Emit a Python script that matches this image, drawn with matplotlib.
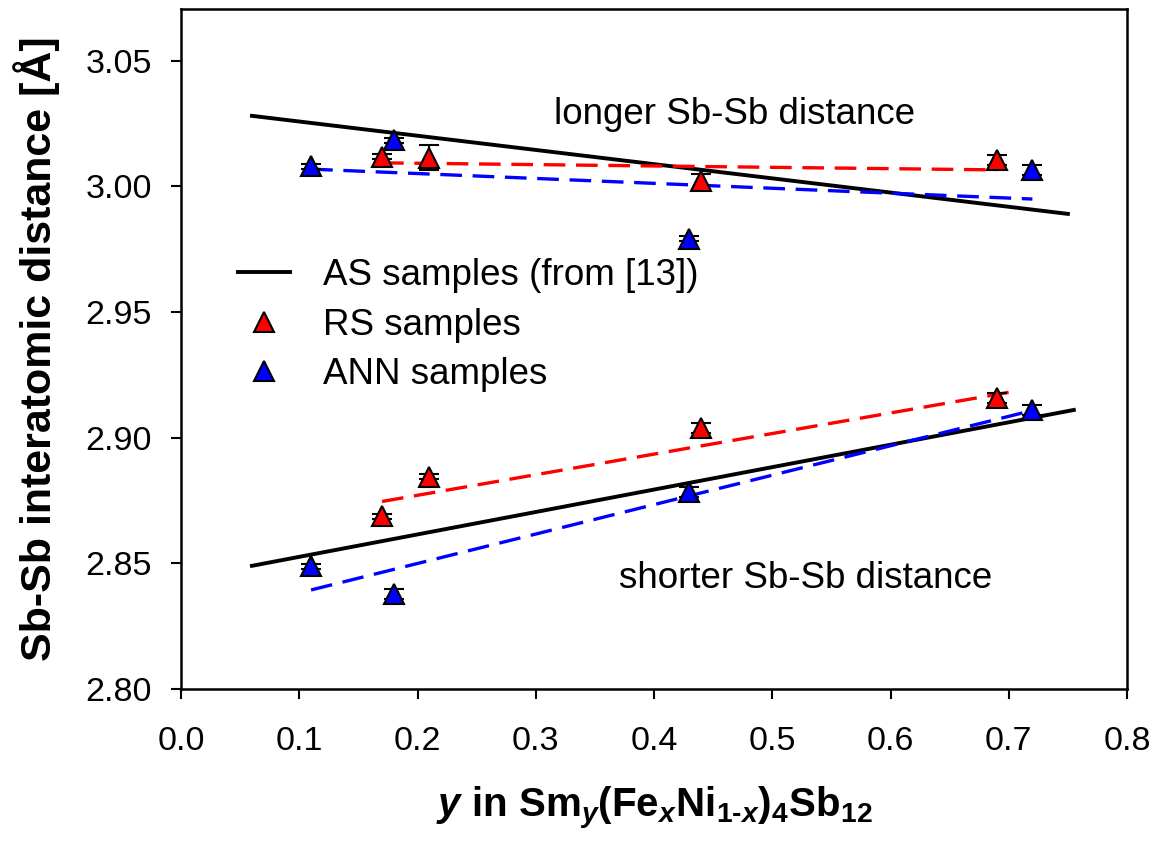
from __future__ import annotations

import matplotlib

matplotlib.use("Agg")
import matplotlib.pyplot as plt
from matplotlib.lines import Line2D


# RS samples (red)
rs_y = [0.17, 0.21, 0.44, 0.69]
rs_long = [3.0118, 3.0114, 3.0020, 3.0104]
rs_long_err = [0.001, 0.005, 0.003, 0.002]
rs_short = [2.8688, 2.8844, 2.9039, 2.9159]
rs_short_err = [0.001, 0.001, 0.002, 0.002]

# ANN samples (blue)
ann_y = [0.11, 0.18, 0.43, 0.72]
ann_long = [3.0079, 3.0183, 2.9792, 3.0066]
ann_long_err = [0.001, 0.001, 0.001, 0.002]
ann_short = [2.8489, 2.8377, 2.8783, 2.9108]
ann_short_err = [0.001, 0.002, 0.002, 0.002]

# AS samples (from [13]) - trend lines only
as_long_x = [0.06, 0.75]
as_long = [3.028, 2.989]
as_short_x = [0.06, 0.755]
as_short = [2.849, 2.911]

# dashed trend lines
rs_long_fit_x = [0.17, 0.69]
rs_long_fit = [3.0093, 3.0065]
ann_long_fit_x = [0.11, 0.72]
ann_long_fit = [3.0068, 2.9949]
rs_short_fit_x = [0.17, 0.70]
rs_short_fit = [2.8746, 2.918]
ann_short_fit_x = [0.11, 0.72]
ann_short_fit = [2.8394, 2.9108]

x_ticks = [0.0, 0.1, 0.2, 0.3, 0.4, 0.5, 0.6, 0.7, 0.8]
y_ticks = [2.80, 2.85, 2.90, 2.95, 3.00, 3.05]

FONT = "Liberation Sans"
RED = "#ff0000"
BLUE = "#0000ff"
MS = 15


def draw_points(ax, x, y, err, color):
    ax.errorbar(
        x, y, yerr=err,
        fmt="none", ecolor="black", elinewidth=1.5,
        capsize=7.5, capthick=1.5, zorder=3,
    )
    ax.plot(
        x, y, linestyle="none", marker="^", markersize=MS,
        markerfacecolor=color, markeredgecolor="black", markeredgewidth=1.5,
        zorder=4,
    )


def main() -> None:
    plt.rcParams["font.family"] = [FONT, "DejaVu Sans"]
    plt.rcParams["mathtext.fontset"] = "custom"
    plt.rcParams["mathtext.rm"] = f"{FONT}:bold"
    plt.rcParams["mathtext.it"] = f"{FONT}:bold:italic"
    plt.rcParams["mathtext.bf"] = f"{FONT}:bold"

    fig = plt.figure(figsize=(11.63, 8.49), dpi=100)
    ax = fig.add_axes([181 / 1163, 1 - 689 / 849, 946 / 1163, 680 / 849])

    # trend lines
    ax.plot(as_long_x, as_long, color="black", linewidth=2.8, zorder=2)
    ax.plot(as_short_x, as_short, color="black", linewidth=2.8, zorder=2)
    dash = (0, (6.5, 3.2))
    ax.plot(rs_long_fit_x, rs_long_fit, color=RED, linewidth=2.4, linestyle=dash, zorder=2)
    ax.plot(ann_long_fit_x, ann_long_fit, color=BLUE, linewidth=2.4, linestyle=dash, zorder=2)
    ax.plot(rs_short_fit_x, rs_short_fit, color=RED, linewidth=2.4, linestyle=dash, zorder=2)
    ax.plot(ann_short_fit_x, ann_short_fit, color=BLUE, linewidth=2.4, linestyle=dash, zorder=2)

    draw_points(ax, rs_y, rs_long, rs_long_err, RED)
    draw_points(ax, rs_y, rs_short, rs_short_err, RED)
    draw_points(ax, ann_y, ann_long, ann_long_err, BLUE)
    draw_points(ax, ann_y, ann_short, ann_short_err, BLUE)

    ax.text(0.4685, 3.0285, "longer Sb-Sb distance", fontsize=26.5,
            ha="center", va="center")
    ax.text(0.5285, 2.8438, "shorter Sb-Sb distance", fontsize=26.5,
            ha="center", va="center")

    ax.set_xlim(0.0, 0.8)
    ax.set_ylim(2.80, 3.0705)
    ax.set_xticks(x_ticks)
    ax.set_xticklabels([f"{t:.1f}" for t in x_ticks])
    ax.set_yticks(y_ticks)
    ax.set_yticklabels([f"{t:.2f}" for t in y_ticks])
    ax.tick_params(axis="both", direction="out", length=7, width=1.5,
                   labelsize=24.5, top=False, right=False)
    ax.tick_params(axis="x", pad=20)
    ax.tick_params(axis="y", pad=14)
    for spine in ax.spines.values():
        spine.set_linewidth(1.8)

    ax.set_ylabel("Sb-Sb interatomic distance [Å]", fontsize=31,
                  fontweight="bold", labelpad=18)
    ax.set_xlabel(r"$\it{y}$ in Sm$_{\it{y}}$(Fe$_{\it{x}}$Ni$_{1\text{-}\it{x}}$)$_4$Sb$_{12}$",
                  fontsize=29, fontweight="bold", labelpad=20)

    handles = [
        Line2D([0], [0], color="black", linewidth=2.8, label="AS samples (from [13])"),
        Line2D([0], [0], linestyle="none", marker="^", markersize=MS,
               markerfacecolor=RED, markeredgecolor="black", markeredgewidth=1.5,
               label="RS samples"),
        Line2D([0], [0], linestyle="none", marker="^", markersize=MS,
               markerfacecolor=BLUE, markeredgecolor="black", markeredgewidth=1.5,
               label="ANN samples"),
    ]
    ax.legend(
        handles=handles, loc="upper left", bbox_to_anchor=(0.060, 0.634),
        frameon=False, fontsize=26.5, borderaxespad=0, borderpad=0,
        handlelength=1.41, handletextpad=0.9, labelspacing=0.40,
    )

    fig.savefig("out.png", dpi=100)
    plt.close(fig)


if __name__ == "__main__":
    main()
